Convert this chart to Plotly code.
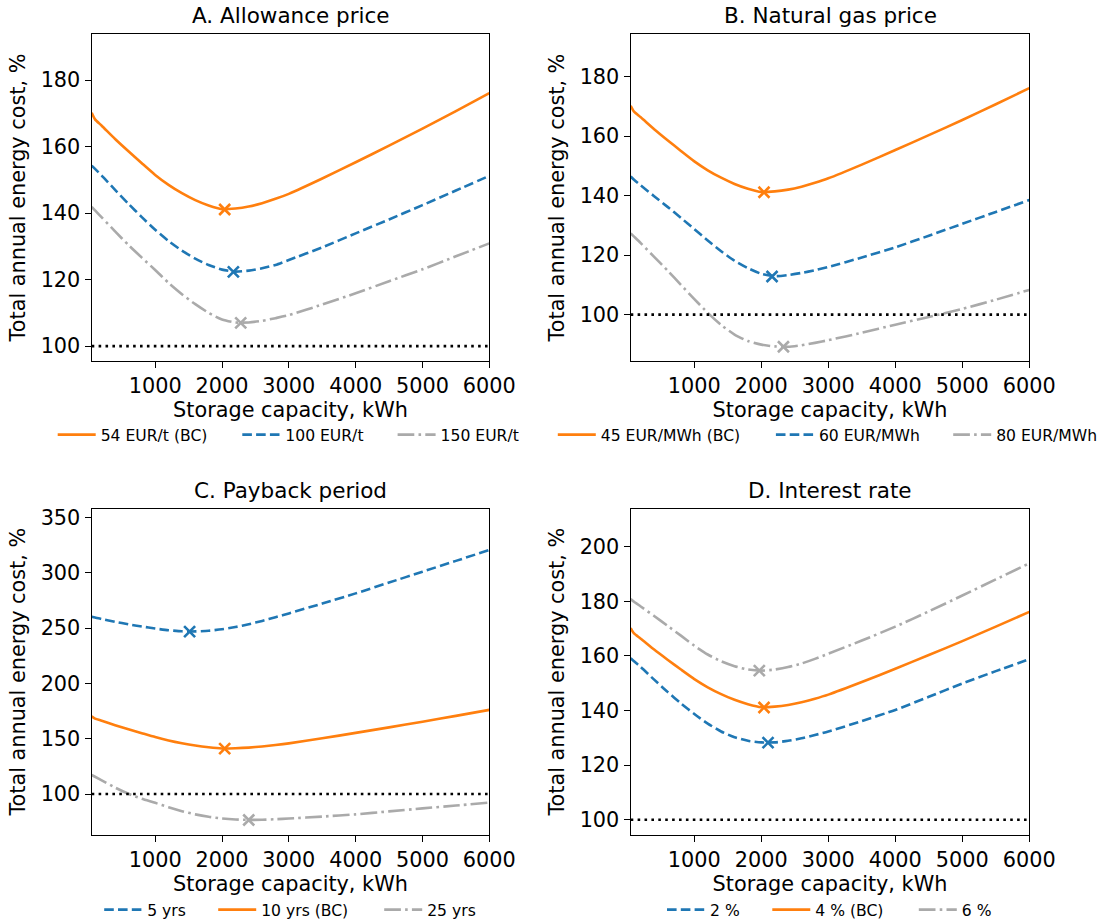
import plotly.graph_objects as go

# Storage capacity grid (kWh)
capacity_kwh = [50, 100, 200, 400, 600, 800, 1000, 1200, 1400, 1600, 1800, 2000,
                2200, 2400, 2600, 2800, 3000, 3500, 4000, 4500, 5000, 5500, 6000]

# Base case (BC): total annual energy cost, % of reference
base_case = [170.2, 168.2, 166.3, 162.3, 158.6, 155.0, 151.5, 148.5, 146.0, 143.9, 142.3, 141.2,
             141.4, 142.0, 143.0, 144.3, 145.8, 150.4, 155.3, 160.3, 165.4, 170.7, 176.1]

# A. Allowance price
allowance_100 = [154.3, 153.3, 151.3, 147.0, 142.8, 138.8, 135.0, 131.6, 128.7, 126.3, 124.4, 123.0,
                 122.4, 122.7, 123.4, 124.4, 125.9, 129.7, 133.9, 138.1, 142.4, 146.8, 151.2]
allowance_150 = [141.9, 140.8, 138.7, 134.5, 130.4, 126.6, 122.9, 119.0, 115.6, 112.6, 110.0, 108.0,
                 107.1, 107.1, 107.6, 108.4, 109.3, 112.5, 115.9, 119.5, 123.1, 127.0, 130.9]

# B. Natural gas price
gas_60 = [146.4, 145.3, 143.4, 139.8, 136.2, 132.5, 128.7, 124.9, 121.3, 118.1, 115.6, 113.7,
          112.9, 113.3, 114.0, 114.9, 116.0, 119.2, 122.6, 126.5, 130.5, 134.5, 138.5]
gas_80 = [127.3, 126.2, 124.0, 119.4, 114.8, 110.0, 105.2, 100.6, 96.5, 93.3, 91.1, 89.9,
          89.3, 89.2, 89.7, 90.5, 91.4, 93.9, 96.6, 99.2, 101.9, 105.0, 108.3]

# C. Payback period
payback_5 = [260.4, 259.6, 258.3, 255.8, 253.5, 251.5, 249.7, 248.2, 247.2, 247.1, 247.7, 249.0,
             251.0, 253.6, 256.6, 259.9, 263.4, 272.3, 281.5, 291.3, 301.1, 310.9, 320.7]
payback_25 = [117.2, 115.6, 112.4, 105.8, 100.2, 95.7, 92.0, 88.0, 84.5, 81.6, 79.4, 77.9,
              77.0, 76.6, 76.7, 77.2, 77.8, 79.6, 81.6, 84.3, 87.0, 89.6, 92.2]

# D. Interest rate
rate_2 = [159.1, 158.0, 155.9, 151.3, 146.8, 142.6, 138.7, 135.2, 132.3, 130.2, 128.9, 128.3,
          128.3, 128.9, 129.8, 131.0, 132.3, 136.1, 140.2, 145.0, 149.9, 154.4, 158.8]
rate_6 = [180.8, 179.8, 178.1, 174.6, 171.0, 167.4, 163.7, 160.5, 158.0, 156.2, 155.0, 154.6,
          155.0, 155.9, 157.2, 158.9, 160.8, 165.6, 170.7, 176.3, 182.1, 188.0, 193.9]

# Cost-optimal storage capacity (kWh) and cost (%) for each series
opt_base = (2040, 141.1)
opt_allowance_100 = (2170, 122.3)
opt_allowance_150 = (2280, 107.0)
opt_gas_60 = (2160, 112.8)
opt_gas_80 = (2330, 89.2)
opt_payback_5 = (1515, 246.9)
opt_payback_25 = (2400, 76.5)
opt_rate_2 = (2100, 128.2)
opt_rate_6 = (1970, 154.6)

reference_pct = 100

panel_titles = ["A. Allowance price", "B. Natural gas price", "C. Payback period", "D. Interest rate"]
x_ticks = [1000, 2000, 3000, 4000, 5000, 6000]
y_ticks = [[100, 120, 140, 160, 180],
           [100, 120, 140, 160, 180],
           [100, 150, 200, 250, 300, 350],
           [100, 120, 140, 160, 180, 200]]

ORANGE = "#ff7f0e"
BLUE = "#1f77b4"
GREY = "#aaaaaa"
LW = 2.6
styles = {
    "solid": dict(color=ORANGE, width=LW, dash="solid"),
    "dashed": dict(color=BLUE, width=LW, dash="9.6px,4.2px"),
    "dashdot": dict(color=GREY, width=LW, dash="16.7px,4.2px,2.6px,4.2px"),
}

panels = [
    [("54 EUR/t (BC)", base_case, "solid", opt_base),
     ("100 EUR/t", allowance_100, "dashed", opt_allowance_100),
     ("150 EUR/t", allowance_150, "dashdot", opt_allowance_150)],
    [("45 EUR/MWh (BC)", base_case, "solid", opt_base),
     ("60 EUR/MWh", gas_60, "dashed", opt_gas_60),
     ("80 EUR/MWh", gas_80, "dashdot", opt_gas_80)],
    [("5 yrs", payback_5, "dashed", opt_payback_5),
     ("10 yrs (BC)", base_case, "solid", opt_base),
     ("25 yrs", payback_25, "dashdot", opt_payback_25)],
    [("2 %", rate_2, "dashed", opt_rate_2),
     ("4 % (BC)", base_case, "solid", opt_base),
     ("6 %", rate_6, "dashdot", opt_rate_6)],
]

W, H = 1107, 921
FONT = "DejaVu Sans"
x_domains = [[91.7 / W, 489.3 / W], [630.7 / W, 1029.3 / W]]
y_domains = [[1 - 360.7 / H, 1 - 34.3 / H], [1 - 834.7 / H, 1 - 508.7 / H]]
y_ranges = [[95.6, 193.8], [84.5, 194.2], [63.2, 358.1], [94.5, 213.9]]

# legend line-sample start (px) for each entry, and legend row centre (px)
legend_line_x = [[57.7, 242.3, 397.6], [557.8, 775.9, 953.2],
                 [104.2, 218.2, 384.2], [667.0, 772.3, 918.8]]
legend_row_y = [435, 435, 910, 910]

fig = go.Figure()
layout = dict(
    width=W, height=H,
    margin=dict(l=0, r=0, t=0, b=0, autoexpand=False),
    paper_bgcolor="white", plot_bgcolor="white",
    font=dict(family=FONT, size=20.8, color="black"),
    showlegend=True,
    annotations=[], shapes=[],
)

legend_idx = 0
for p, series in enumerate(panels):
    ax = "" if p == 0 else str(p + 1)
    xref, yref = "x" + ax, "y" + ax
    col, row = p % 2, p // 2
    layout["xaxis" + ax] = dict(
        domain=x_domains[col], anchor=yref, range=[50, 6000],
        tickvals=x_ticks, ticktext=[str(t) for t in x_ticks],
        showline=True, mirror=True, linecolor="black", linewidth=1.4,
        ticks="outside", ticklen=6, tickwidth=1.4, tickcolor="black",
        showgrid=False, zeroline=False,
        title=dict(text="Storage capacity, kWh", standoff=4, font=dict(size=20.8)),
        tickfont=dict(size=20.8),
    )
    layout["yaxis" + ax] = dict(
        domain=y_domains[row], anchor=xref, range=y_ranges[p],
        tickvals=y_ticks[p], ticktext=[str(t) for t in y_ticks[p]],
        showline=True, mirror=True, linecolor="black", linewidth=1.4,
        ticks="outside", ticklen=6, tickwidth=1.4, tickcolor="black",
        showgrid=False, zeroline=False,
        title=dict(text="Total annual energy cost, %", standoff=9, font=dict(size=20.8)),
        tickfont=dict(size=20.8),
    )
    layout["annotations"].append(dict(
        text=panel_titles[p], xref=xref + " domain", yref=yref + " domain",
        x=0.5, y=1, xanchor="center", yanchor="bottom", yshift=4,
        showarrow=False, font=dict(size=21.5, family=FONT),
    ))
    layout["shapes"].append(dict(
        type="line", xref=xref + " domain", yref=yref, x0=0, x1=1,
        y0=reference_pct, y1=reference_pct,
        line=dict(color="black", width=2.6, dash="2.6px,4.3px"),
    ))

    for s, (name, values, style, (ox, oy)) in enumerate(series):
        legend_idx += 1
        lg = "legend" if legend_idx == 1 else f"legend{legend_idx}"
        fig.add_trace(go.Scatter(
            x=capacity_kwh, y=values, mode="lines", name=name,
            line=dict(**styles[style], shape="spline", smoothing=0.6),
            xaxis=xref, yaxis=yref, legend=lg,
        ))
        fig.add_trace(go.Scatter(
            x=[ox], y=[oy], mode="markers", showlegend=False,
            marker=dict(symbol="x-thin", size=11,
                        line=dict(color=styles[style]["color"], width=2.6)),
            xaxis=xref, yaxis=yref,
        ))
        layout[lg] = dict(
            x=(legend_line_x[p][s] - 5) / W, y=1 - legend_row_y[p] / H,
            xanchor="left", yanchor="middle", orientation="h",
            bgcolor="rgba(0,0,0,0)", borderwidth=0, itemwidth=38,
            font=dict(size=15.6, family=FONT, color="black"),
        )

fig.update_layout(**layout)
fig.write_html("out.html")
